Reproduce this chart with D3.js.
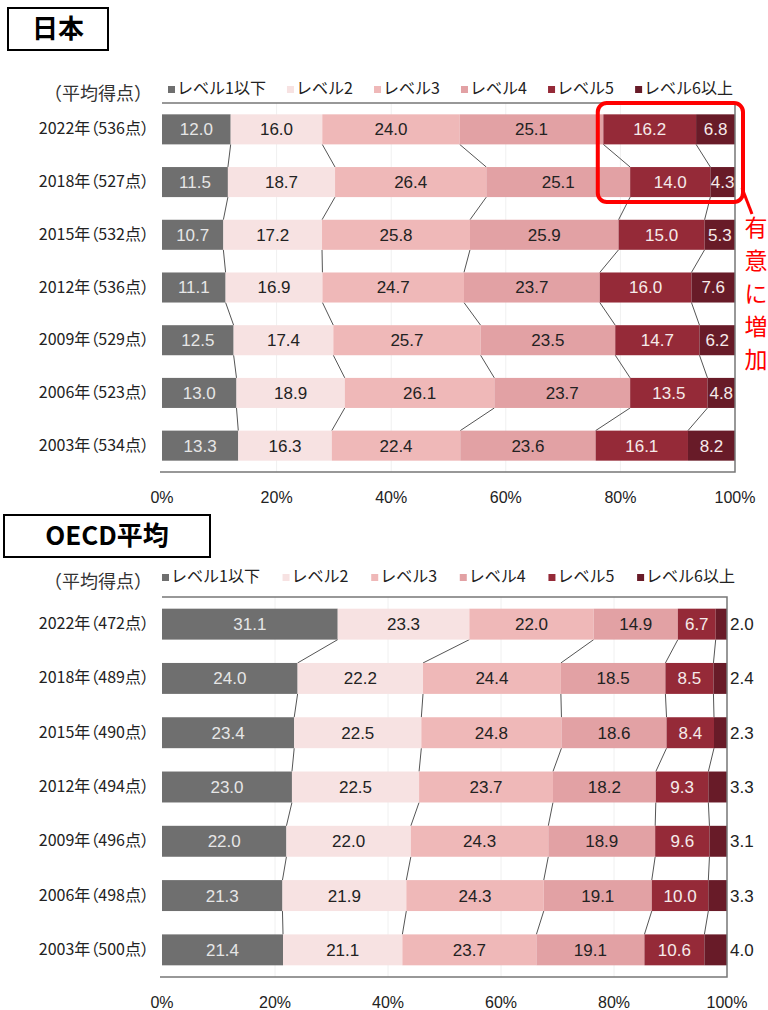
<!DOCTYPE html>
<html>
<head>
<meta charset="utf-8">
<script src="https://cdn.jsdelivr.net/npm/d3@7"></script>
<style>
  body { margin: 0; background: #fff; }
  svg { display: block; }
</style>
</head>
<body>
<div id="chart"></div>
<script>
// PISA level shares, Japan vs OECD average
const levels = ["レベル1以下", "レベル2", "レベル3", "レベル4", "レベル5", "レベル6以上"];
const levelColors = ["#6f6f6f", "#f7e2e2", "#efb8b8", "#e2a1a4", "#952a38", "#681b28"];
const labelColors = ["#e6e6e6", "#222", "#222", "#222", "#f6eaea", "#f6eaea"];
const ticks = [0, 20, 40, 60, 80, 100];

const jpYears = ["2022年（536点）", "2018年（527点）", "2015年（532点）", "2012年（536点）", "2009年（529点）", "2006年（523点）", "2003年（534点）"];
const jpL1 = [12.0, 11.5, 10.7, 11.1, 12.5, 13.0, 13.3];
const jpL2 = [16.0, 18.7, 17.2, 16.9, 17.4, 18.9, 16.3];
const jpL3 = [24.0, 26.4, 25.8, 24.7, 25.7, 26.1, 22.4];
const jpL4 = [25.1, 25.1, 25.9, 23.7, 23.5, 23.7, 23.6];
const jpL5 = [16.2, 14.0, 15.0, 16.0, 14.7, 13.5, 16.1];
const jpL6 = [6.8, 4.3, 5.3, 7.6, 6.2, 4.8, 8.2];

const oeYears = ["2022年（472点）", "2018年（489点）", "2015年（490点）", "2012年（494点）", "2009年（496点）", "2006年（498点）", "2003年（500点）"];
const oeL1 = [31.1, 24.0, 23.4, 23.0, 22.0, 21.3, 21.4];
const oeL2 = [23.3, 22.2, 22.5, 22.5, 22.0, 21.9, 21.1];
const oeL3 = [22.0, 24.4, 24.8, 23.7, 24.3, 24.3, 23.7];
const oeL4 = [14.9, 18.5, 18.6, 18.2, 18.9, 19.1, 19.1];
const oeL5 = [6.7, 8.5, 8.4, 9.3, 9.6, 10.0, 10.6];
const oeL6 = [2.0, 2.4, 2.3, 3.3, 3.1, 3.3, 4.0];

const jpFont = "'Noto Sans CJK JP', sans-serif";
const numFont = "'Liberation Sans Narrow', 'Liberation Sans', Arial, sans-serif";

const svg = d3.select("#chart").append("svg")
  .attr("width", 768)
  .attr("height", 1010);

function drawPanel(p) {
  const rows = p.years.map((y, i) => {
    const vals = p.series.map(s => s[i]);
    const total = d3.sum(vals);
    let acc = 0;
    const segs = vals.map((v, k) => {
      const s = { k, v, x0: acc / total * 100 };
      acc += v;
      s.x1 = acc / total * 100;
      return s;
    });
    return { year: y, segs };
  });

  const x = d3.scaleLinear().domain([0, 100]).range([p.left, p.right]);
  const y = d3.scaleBand().domain(p.years).range([p.top, p.bottom])
    .paddingInner(0.43).paddingOuter(0.215);

  const g = svg.append("g");

  // title box
  g.append("rect")
    .attr("x", p.box[0]).attr("y", p.box[1])
    .attr("width", p.box[2]).attr("height", p.box[3])
    .attr("fill", "#fff").attr("stroke", "#000").attr("stroke-width", 2);
  g.append("text")
    .attr("x", p.box[0] + p.box[2] / 2).attr("y", p.box[1] + p.box[3] / 2 + 9)
    .attr("text-anchor", "middle")
    .style("font-family", jpFont).style("font-weight", "bold").style("font-size", "26px")
    .text(p.title);

  // faint grid
  g.selectAll(".grid").data(ticks.slice(1, -1)).join("line")
    .attr("x1", d => x(d)).attr("x2", d => x(d))
    .attr("y1", p.top).attr("y2", p.bottom)
    .attr("stroke", "#f0f0f0");

  // legend
  g.append("text")
    .attr("x", 152).attr("y", p.legendY + 6).attr("text-anchor", "end")
    .style("font-family", jpFont).style("font-size", "18px").attr("fill", "#333")
    .text("（平均得点）");
  const leg = g.append("g");
  const items = leg.selectAll("g").data(levels).join("g");
  items.append("rect")
    .attr("width", 7).attr("height", 7).attr("y", p.legendY - 8)
    .attr("fill", (d, i) => levelColors[i]);
  items.append("text")
    .attr("x", 9).attr("y", p.legendY)
    .style("font-family", jpFont).style("font-size", "16px").attr("fill", "#222")
    .text(d => d);
  const widths = [];
  items.each(function () { widths.push(this.getBBox().width); });
  const gap = (p.legendEnd - p.legendStart - d3.sum(widths)) / (levels.length - 1);
  let lx = p.legendStart;
  items.attr("transform", (d, i) => {
    const t = `translate(${lx},0)`;
    lx += widths[i] + gap;
    return t;
  });

  // connector lines between bars
  for (let i = 0; i < rows.length - 1; i++) {
    const a = rows[i], b = rows[i + 1];
    for (let k = 0; k < levels.length - 1; k++) {
      g.append("line")
        .attr("x1", x(a.segs[k].x1)).attr("y1", y(a.year) + y.bandwidth())
        .attr("x2", x(b.segs[k].x1)).attr("y2", y(b.year))
        .attr("stroke", "#555").attr("stroke-width", 1);
    }
  }

  // bars
  const rowG = g.selectAll(".row").data(rows).join("g")
    .attr("transform", d => `translate(0,${y(d.year)})`);
  rowG.selectAll("rect").data(d => d.segs).join("rect")
    .attr("x", d => x(d.x0))
    .attr("width", d => x(d.x1) - x(d.x0))
    .attr("height", y.bandwidth())
    .attr("fill", d => levelColors[d.k]);
  rowG.selectAll(".val").data(d => d.segs).join("text")
    .attr("x", d => (p.outsideLast && d.k === 5) ? p.right + 3 : x((d.x0 + d.x1) / 2))
    .attr("y", y.bandwidth() / 2 + 6)
    .attr("text-anchor", d => (p.outsideLast && d.k === 5) ? "start" : "middle")
    .attr("fill", d => (p.outsideLast && d.k === 5) ? "#222" : labelColors[d.k])
    .style("font-family", numFont).style("font-size", "17px")
    .text(d => d.v.toFixed(1));

  // row labels
  g.selectAll(".yl").data(p.years).join("text")
    .attr("x", 149).attr("y", d => y(d) + y.bandwidth() / 2 + 5)
    .attr("text-anchor", "end")
    .style("font-family", jpFont).style("font-size", "16px").attr("fill", "#222")
    .style("font-feature-settings", "'palt'")
    .text(d => d);

  // frame: top, right, bottom
  g.append("path")
    .attr("d", `M${p.left},${p.top}H${p.right}V${p.bottom}H${p.left - 2}`)
    .attr("fill", "none").attr("stroke", "#777").attr("stroke-width", 1.5);

  // x axis labels
  g.selectAll(".tk").data(ticks).join("text")
    .attr("x", d => x(d)).attr("y", p.bottom + 31)
    .attr("text-anchor", "middle")
    .style("font-family", numFont).style("font-size", "16px").attr("fill", "#222")
    .text(d => d + "%");

  return { x, y };
}

const jp = drawPanel({
  title: "日本", box: [8, 8, 100, 42],
  years: jpYears, series: [jpL1, jpL2, jpL3, jpL4, jpL5, jpL6],
  left: 162, right: 735, top: 103, bottom: 472,
  legendY: 94, legendStart: 168, legendEnd: 733,
  outsideLast: false
});

drawPanel({
  title: "OECD平均", box: [4, 515, 206, 42],
  years: oeYears, series: [oeL1, oeL2, oeL3, oeL4, oeL5, oeL6],
  left: 162, right: 727, top: 597, bottom: 977,
  legendY: 582, legendStart: 162, legendEnd: 735,
  outsideLast: true
});

// highlight of the top levels in recent Japan rows
const hx0 = jp.x(jpL1[0] + jpL2[0] + jpL3[0] + jpL4[0]) - 6;
svg.append("rect")
  .attr("x", hx0).attr("y", 103)
  .attr("width", 743 - hx0).attr("height", 99)
  .attr("rx", 9)
  .attr("fill", "none").attr("stroke", "#ff0000").attr("stroke-width", 4);
svg.append("line")
  .attr("x1", 742).attr("y1", 188).attr("x2", 752).attr("y2", 214)
  .attr("stroke", "#ff0000").attr("stroke-width", 3);
svg.append("g").selectAll("text").data(Array.from("有意に増加")).join("text")
  .attr("x", 756).attr("y", (d, i) => 236 + i * 33)
  .attr("text-anchor", "middle")
  .style("font-family", jpFont).style("font-size", "23px").attr("fill", "#ff0000")
  .text(d => d);
</script>
</body>
</html>
